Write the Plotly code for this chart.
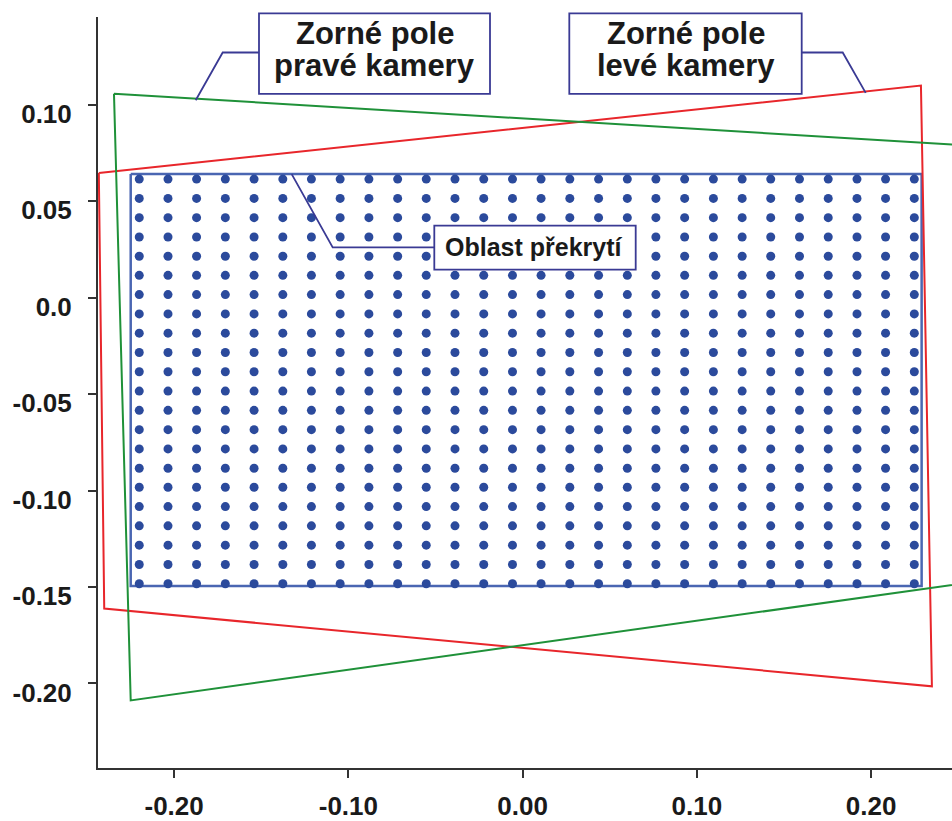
import plotly.graph_objects as go

# ---------------- data ----------------
grid_x = [-0.2200, -0.2035, -0.1871, -0.1706, -0.1541, -0.1376, -0.1212, -0.1047,
          -0.0882, -0.0717, -0.0553, -0.0388, -0.0223, -0.0058, 0.0106, 0.0271,
          0.0436, 0.0601, 0.0765, 0.0930, 0.1095, 0.1260, 0.1424, 0.1589,
          0.1754, 0.1919, 0.2083, 0.2248]
grid_y = [0.0615, 0.0515, 0.0415, 0.0315, 0.0215, 0.0116, 0.0016, -0.0084,
          -0.0184, -0.0284, -0.0384, -0.0484, -0.0584, -0.0684, -0.0784, -0.0884,
          -0.0983, -0.1083, -0.1183, -0.1283, -0.1383, -0.1483]

overlap_x = [-0.2249, 0.2290, 0.2290, -0.2249, -0.2249]
overlap_y = [0.0642, 0.0642, -0.1495, -0.1495, 0.0642]

left_cam_x = [-0.2432, 0.2286, 0.2349, -0.2401, -0.2432]
left_cam_y = [0.0646, 0.1100, -0.2015, -0.1612, 0.0646]

right_cam_x = [-0.2345, 0.2700, 0.2700, -0.2249, -0.2345]
right_cam_y = [0.1058, 0.0782, -0.1459, -0.2088, 0.1058]

x_tickvals = [-0.20, -0.10, 0.00, 0.10, 0.20]
x_ticktext = ["-0.20", "-0.10", "0.00", "0.10", "0.20"]
y_tickvals = [0.10, 0.05, 0.0, -0.05, -0.10, -0.15, -0.20]
y_ticktext = ["0.10", "0.05", "0.0", "-0.05", "-0.10", "-0.15", "-0.20"]

label_right = ["Zorné pole", "pravé kamery"]
label_left = ["Zorné pole", "levé kamery"]
label_overlap = "Oblast překrytí"

# ---------------- layout geometry ----------------
W, H = 952, 821
ML, MR, MT, MB = 98, 0, 17, 49
PW, PH = W - ML - MR, H - MT - MB

FONT = "Liberation Sans, Arial, sans-serif"
LEAD = "#3a3a94"


def px(x):
    return (x - ML) / PW


def py(y):
    return (H - MB - y) / PH


gx, gy = [], []
for yy in grid_y:
    for xx in grid_x:
        gx.append(xx)
        gy.append(yy)

fig = go.Figure()
fig.add_trace(go.Scatter(x=overlap_x, y=overlap_y, mode="lines",
                         line=dict(color="#4a66b2", width=2.5), hoverinfo="skip"))
fig.add_trace(go.Scatter(x=gx, y=gy, mode="markers",
                         marker=dict(color="#2b4a9c", size=9), hoverinfo="skip"))
fig.add_trace(go.Scatter(x=left_cam_x, y=left_cam_y, mode="lines",
                         line=dict(color="#e8262b", width=2), hoverinfo="skip"))
fig.add_trace(go.Scatter(x=right_cam_x, y=right_cam_y, mode="lines",
                         line=dict(color="#1f9139", width=2), hoverinfo="skip"))

shapes = []
# boxes
for (x0, y0, x1, y1) in [(259, 13.3, 490, 94.3), (569.3, 13.3, 801.7, 94.3),
                         (434.3, 226.7, 635.7, 271)]:
    shapes.append(dict(type="rect", xref="paper", yref="paper",
                       x0=px(x0), x1=px(x1), y0=py(y0), y1=py(y1),
                       line=dict(color=LEAD, width=1.8), fillcolor="white", layer="above"))
# leader lines
for pts in [[(259, 52.7), (222.7, 52.7), (195.7, 100.7)],
            [(801.7, 52.7), (842.7, 52.7), (865.7, 93.3)],
            [(434.3, 248.7), (332.7, 248.7), (291.7, 175)]]:
    path = "M " + " L ".join(f"{px(a):.5f},{py(b):.5f}" for a, b in pts)
    shapes.append(dict(type="path", xref="paper", yref="paper", path=path,
                       line=dict(color=LEAD, width=1.8), layer="above"))

annotations = []
for cx, lines in [(374.5, label_right), (685.5, label_left)]:
    for cy, t in zip([33.5, 66.0], lines):
        annotations.append(dict(x=px(cx), y=py(cy), xref="paper", yref="paper",
                                text=t, showarrow=False, xanchor="center", yanchor="middle",
                                font=dict(family=FONT, size=31, color="#1a1a1a", weight="bold")))
annotations.append(dict(x=px(534), y=py(248), xref="paper", yref="paper",
                        text=label_overlap, showarrow=False, xanchor="center", yanchor="middle",
                        font=dict(family=FONT, size=25, color="#1a1a1a", weight="bold")))

fig.update_layout(
    width=W, height=H,
    margin=dict(l=ML, r=MR, t=MT, b=MB),
    paper_bgcolor="white", plot_bgcolor="white",
    showlegend=False,
    shapes=shapes, annotations=annotations,
    xaxis=dict(range=[(ML - 522.6) / 1742.5, (W - 522.6) / 1742.5],
               tickvals=x_tickvals, ticktext=x_ticktext,
               showgrid=False, zeroline=False, showline=True,
               linecolor="#333333", linewidth=2,
               ticks="outside", ticklen=8, tickwidth=2, tickcolor="#333333",
               ticklabelstandoff=6,
               tickfont=dict(family=FONT, size=26, color="#1a1a1a", weight="bold")),
    yaxis=dict(range=[(299.2 - (H - MB)) / 1939, (299.2 - MT) / 1939],
               tickvals=y_tickvals, ticktext=y_ticktext,
               showgrid=False, zeroline=False, showline=True,
               linecolor="#333333", linewidth=2,
               ticks="outside", ticklen=8, tickwidth=2, tickcolor="#333333",
               ticklabelstandoff=11, ticklabelshift=9,
               tickfont=dict(family=FONT, size=26, color="#1a1a1a", weight="bold")),
)

fig.write_html("out.html", config={"displayModeBar": False},
               post_script="document.body.style.margin='0';document.body.style.overflow='hidden';")
